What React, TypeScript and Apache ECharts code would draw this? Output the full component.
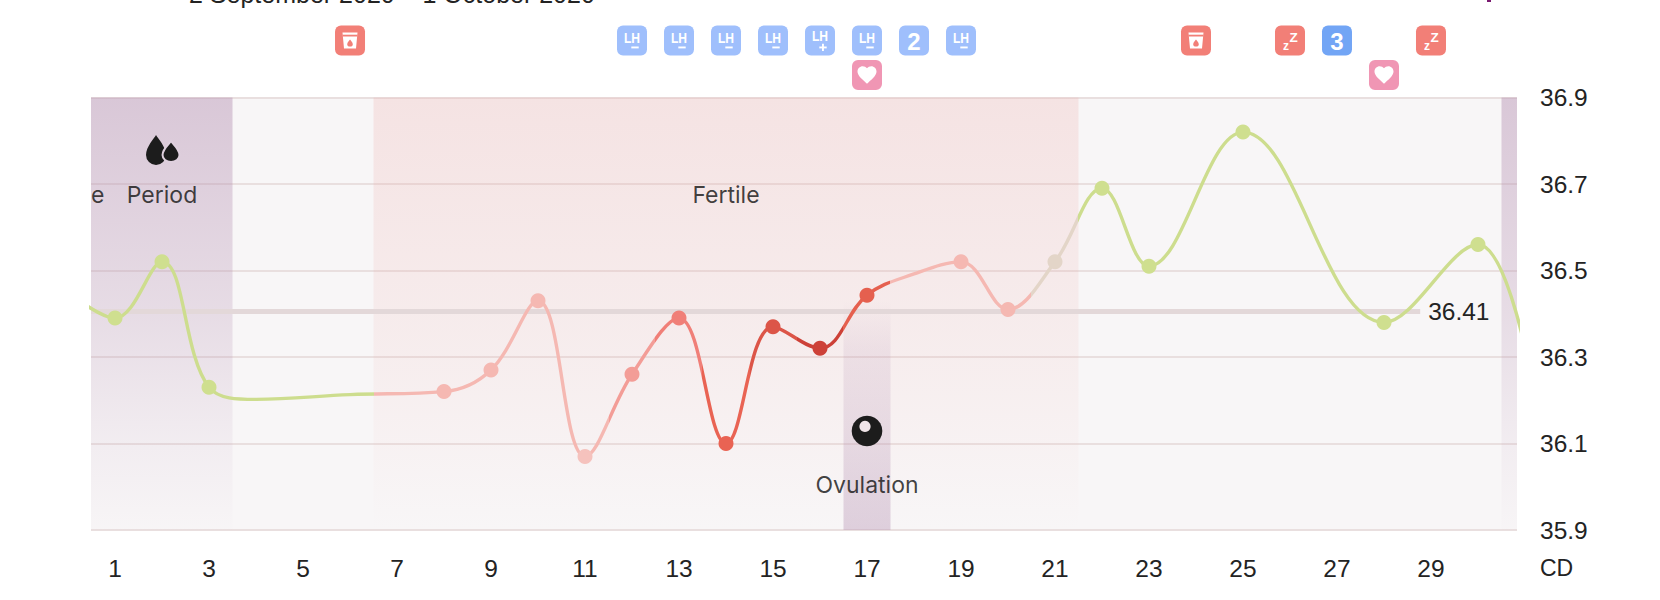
import React, { useEffect, useRef } from "react";
import * as echarts from "echarts";

const days = [0, 1, 2, 3, 4, 6, 8, 9, 10, 11, 12, 13, 14, 15, 16, 17, 18, 19, 20, 21, 22, 23, 25, 28, 30, 31];
const temps = [36.45, 36.39, 36.52, 36.23, 36.202, 36.213, 36.22, 36.27, 36.43, 36.07, 36.26, 36.39, 36.1, 36.37, 36.32, 36.443, 36.492, 36.52, 36.41, 36.52, 36.69, 36.51, 36.82, 36.38, 36.56, 36.32];
const markedDays = [1, 2, 3, 8, 9, 10, 11, 12, 13, 14, 15, 16, 17, 19, 20, 21, 22, 23, 25, 28, 30];
const markerColors = ["#cfdf8f", "#cfdf8f", "#cfdf8f", "#f5b8b2", "#f5b8b2", "#f5b8b2", "#f5c2bd", "#f39d97", "#f07f78", "#e96353", "#dc5548", "#cd4138", "#e5604f", "#f5b8b2", "#f5b8b2", "#e3d5c8", "#cfdf8f", "#cfdf8f", "#cfdf8f", "#cfdf8f", "#cfdf8f"];
const segmentEnds = [6.5, 11.5, 12.5, 13.5, 14.5, 15.5, 16.5, 17.5, 20.5, 21.5, 40];
const segmentColors = ["#cddd8e", "#f5b8b2", "#f39d97", "#f07f78", "#e96353", "#dc5548", "#cd4138", "#e5604f", "#f5b8b2", "#e3d5c8", "#cddd8e"];
const xTicks = [1, 3, 5, 7, 9, 11, 13, 15, 17, 19, 21, 23, 25, 27, 29];
const yTicks = [35.9, 36.1, 36.3, 36.5, 36.7, 36.9];
const coverTemp = 36.405;
const coverLabel = "36.41";
const title = "2 September 2020 – 1 October 2020";
const badgeDays = [6, 12, 13, 14, 15, 16, 17, 17, 18, 19, 24, 26, 27, 28, 29];
const badgeRows = [0, 0, 0, 0, 0, 0, 0, 1, 0, 0, 0, 0, 0, 1, 0];
const badgeKinds = ["cup", "lh-", "lh-", "lh-", "lh-", "lh+", "lh-", "heart", "two", "lh-", "cup", "zz", "three", "heart", "zz"];
const labelNames = ["Period", "Fertile", "Ovulation"];
const labelDays = [2, 14, 17];
const labelTemps = [36.675, 36.675, 36.004];

const FONT = "Liberation Sans";
const LABEL_FONT = "Inter";
const INK = "#232323";
const DROP = "M12 0C14 4 24 14 24 24A12 12 0 0 1 0 24C0 14 10 4 12 0Z";
const HEART = "M12 21.35l-1.45-1.32C5.4 15.36 2 12.28 2 8.5 2 5.42 4.42 3 7.5 3c1.74 0 3.41.81 4.5 2.09C13.09 3.81 14.76 3 16.5 3 19.58 3 22 5.42 22 8.5c0 3.78-3.4 6.86-8.55 11.54L12 21.35z";

const vGrad = (stops: [number, string][]) => ({
  type: "linear", x: 0, y: 0, x2: 0, y2: 1,
  colorStops: stops.map(([offset, color]) => ({ offset, color })),
});
const periodFill = vGrad([[0, "rgba(179,142,176,0.45)"], [0.5, "rgba(179,142,176,0.25)"], [0.8, "rgba(179,142,176,0.09)"], [1, "rgba(179,142,176,0.01)"]]);
const fertileFill = vGrad([[0, "rgba(236,170,167,0.25)"], [0.55, "rgba(236,170,167,0.13)"], [1, "rgba(236,170,167,0)"]]);
const ovulationFill = vGrad([[0, "rgba(179,142,176,0)"], [0.2, "rgba(179,142,176,0.14)"], [0.6, "rgba(179,142,176,0.25)"], [1, "rgba(179,142,176,0.38)"]]);

const XMIN = 0.489;
const XMAX = 30.83;

function whiteText(text: string, x: number, y: number, fontSize: number, extra: any = {}) {
  return {
    type: "text", x, y, ...extra,
    style: { text, x: 0, y: 0, fill: "#fff", fontSize, fontFamily: FONT, fontWeight: "bold", align: "center", verticalAlign: "middle" },
  };
}

function renderBadge(_: any, api: any) {
  const x = api.coord([api.value(0), 36.9])[0];
  const row = api.value(1);
  const kind = badgeKinds[api.value(2)];
  const y = 40.5 + row * 34.5;
  const fills: any = { cup: "#f27f77", zz: "#f27f77", heart: "#f096b4", three: "#72a5f5" };
  const fill = fills[kind] || "#9fbffc";
  const children: any[] = [
    { type: "rect", shape: { x: x - 15, y: y - 15, width: 30, height: 30, r: 6 }, style: { fill } },
  ];
  if (kind === "lh-" || kind === "lh+") {
    const up = kind === "lh+" ? 2 : 0;
    children.push(whiteText("LH", x, y - 3 - up, 15.5, { scaleX: 0.78 }));
    children.push({ type: "rect", shape: { x: x - 0.7, y: y + 6, width: 7.4, height: 1.9 }, style: { fill: "#fff" } });
    if (kind === "lh+") {
      children.push({ type: "rect", shape: { x: x + 2, y: y + 3.2, width: 1.9, height: 7.4 }, style: { fill: "#fff" } });
    }
  } else if (kind === "two" || kind === "three") {
    children.push(whiteText(kind === "two" ? "2" : "3", x, y + 0.5, 24));
  } else if (kind === "heart") {
    children.push({ type: "path", shape: { pathData: HEART, x: x - 9.5, y: y - 9, width: 19, height: 18 }, style: { fill: "#fff" } });
  } else if (kind === "zz") {
    children.push(whiteText("z", x - 4, y + 5, 12));
    children.push(whiteText("Z", x + 3.7, y - 3, 13.5));
  } else if (kind === "cup") {
    children.push({ type: "polygon", shape: { points: [[x - 7.5, y - 8], [x + 7.5, y - 8], [x + 6, y + 8], [x - 6, y + 8]] }, style: { fill: "#fff" } });
    children.push({ type: "rect", shape: { x: x - 7.5, y: y - 5.8, width: 15, height: 1.8 }, style: { fill } });
    children.push({ type: "path", shape: { pathData: DROP, x: x - 2.8, y: y - 1, width: 5.6, height: 7, layout: "cover" }, style: { fill } });
  }
  return { type: "group", children };
}

function renderIcons(_: any, api: any) {
  const [cx] = api.coord([2, 36.9]);
  const [ox, oy] = api.coord([17, 36.129]);
  return {
    type: "group",
    children: [
      { type: "path", shape: { pathData: DROP, x: cx - 16, y: 135, width: 20, height: 30, layout: "cover" }, style: { fill: "#1c1c1c" } },
      { type: "path", shape: { pathData: DROP, x: cx + 0.5, y: 141, width: 17, height: 21, layout: "cover" }, style: { fill: "#1c1c1c", stroke: "#dfd0de", lineWidth: 2 } },
      { type: "circle", shape: { cx: ox, cy: oy, r: 15.3 }, style: { fill: "#1c1c1c" } },
      { type: "circle", shape: { cx: ox - 2, cy: oy - 4.5, r: 5.6 }, style: { fill: "#efe4e8" } },
    ],
  };
}

const area = (a: number, b: number, top: number, bottom: number, color: any) => [
  { xAxis: a, yAxis: top, itemStyle: { color } },
  { xAxis: b, yAxis: bottom },
];

export default function App() {
  const ref = useRef<HTMLDivElement>(null);
  useEffect(() => {
    document.body.style.margin = "0";
    const chart = echarts.init(ref.current!, undefined, { renderer: "svg" });
    const pieces = segmentEnds.map((lte, i) => ({ gt: i === 0 ? -10 : segmentEnds[i - 1], lte, color: segmentColors[i] }));
    chart.setOption({
      animation: false,
      grid: { left: 91, right: 143, top: 97.5, bottom: 70, show: true, backgroundColor: "#f8f6f7", borderWidth: 0 },
      xAxis: {
        type: "value", min: XMIN, max: XMAX,
        axisLine: { show: false }, axisTick: { show: false, customValues: xTicks }, splitLine: { show: false },
        axisLabel: { customValues: xTicks, margin: 26, fontSize: 24.5, fontFamily: FONT, color: INK, formatter: (v: number) => String(v) },
      },
      yAxis: {
        type: "value", min: 35.9, max: 36.9, position: "right",
        axisLine: { show: false }, axisTick: { show: false, customValues: yTicks },
        splitLine: { show: true, lineStyle: { color: "#e9dfdf", width: 2 } },
        axisLabel: { customValues: yTicks, margin: 23, fontSize: 24.5, fontFamily: FONT, color: INK, formatter: (v: number) => v.toFixed(1) },
      },
      visualMap: { type: "piecewise", show: false, dimension: 0, seriesIndex: 1, pieces },
      graphic: [
        { type: "text", x: 189, y: 6, style: { text: title, fill: INK, fontSize: 25, fontFamily: FONT, verticalAlign: "bottom" } },
        { type: "rect", shape: { x: 1487, y: 0, width: 4, height: 2 }, style: { fill: "#7a1a70" } },
        { type: "text", x: 1540, y: 568, style: { text: "CD", fill: INK, fontSize: 23, fontFamily: FONT, verticalAlign: "middle" } },
      ],
      series: [
        {
          type: "line", name: "Cover line", z: 3, silent: true, showSymbol: false,
          data: [[XMIN, coverTemp], [28.77, coverTemp]],
          lineStyle: { color: "#e3d8d9", width: 5 },
          endLabel: { show: true, formatter: coverLabel, distance: 8, fontSize: 24.5, fontFamily: FONT, color: INK },
          markArea: {
            silent: true, z: 1,
            data: [
              area(XMIN, 3.5, 36.9, 35.9, periodFill),
              area(6.5, 21.5, 36.9, 35.9, fertileFill),
              area(30.5, XMAX, 36.9, 35.9, periodFill),
              area(16.5, 17.5, 36.43, 35.9, ovulationFill),
            ],
          },
        },
        {
          type: "line", name: "Temperature", z: 4, silent: true, showSymbol: false, smooth: 0.38,
          data: days.map((d, i) => [d, temps[i]]),
          lineStyle: { width: 3.4 },
        },
        {
          type: "scatter", name: "Measured", z: 5, silent: true, symbolSize: 15,
          data: markedDays.map((d, i) => ({ value: [d, temps[days.indexOf(d)]], itemStyle: { color: markerColors[i], opacity: 1 } })),
        },
        {
          type: "scatter", name: "Labels", z: 6, silent: true, symbolSize: 0,
          data: labelNames.map((n, i) => ({ name: n, value: [labelDays[i], labelTemps[i]] })),
          label: { show: true, position: "inside", formatter: "{b}", fontSize: 23, fontFamily: LABEL_FONT, color: "#111" },
        },
        {
          type: "scatter", name: "Clipped label", z: 6, silent: true, symbolSize: 0,
          data: [{ name: "e", value: [XMIN, 36.675] }],
          label: { show: true, position: "right", distance: 0, formatter: "{b}", fontSize: 23, fontFamily: LABEL_FONT, color: "#111" },
        },
        {
          type: "custom", name: "Icons", z: 6, silent: true, clip: false, renderItem: renderIcons, data: [[2, 36.7]],
        },
        {
          type: "custom", name: "Badges", z: 6, silent: true, clip: false, renderItem: renderBadge,
          encode: { x: 0, y: 1 },
          data: badgeDays.map((d, i) => [d, badgeRows[i], i]),
        },
      ],
    });
    return () => chart.dispose();
  }, []);
  return <div ref={ref} style={{ width: 1660, height: 600 }} />;
}
